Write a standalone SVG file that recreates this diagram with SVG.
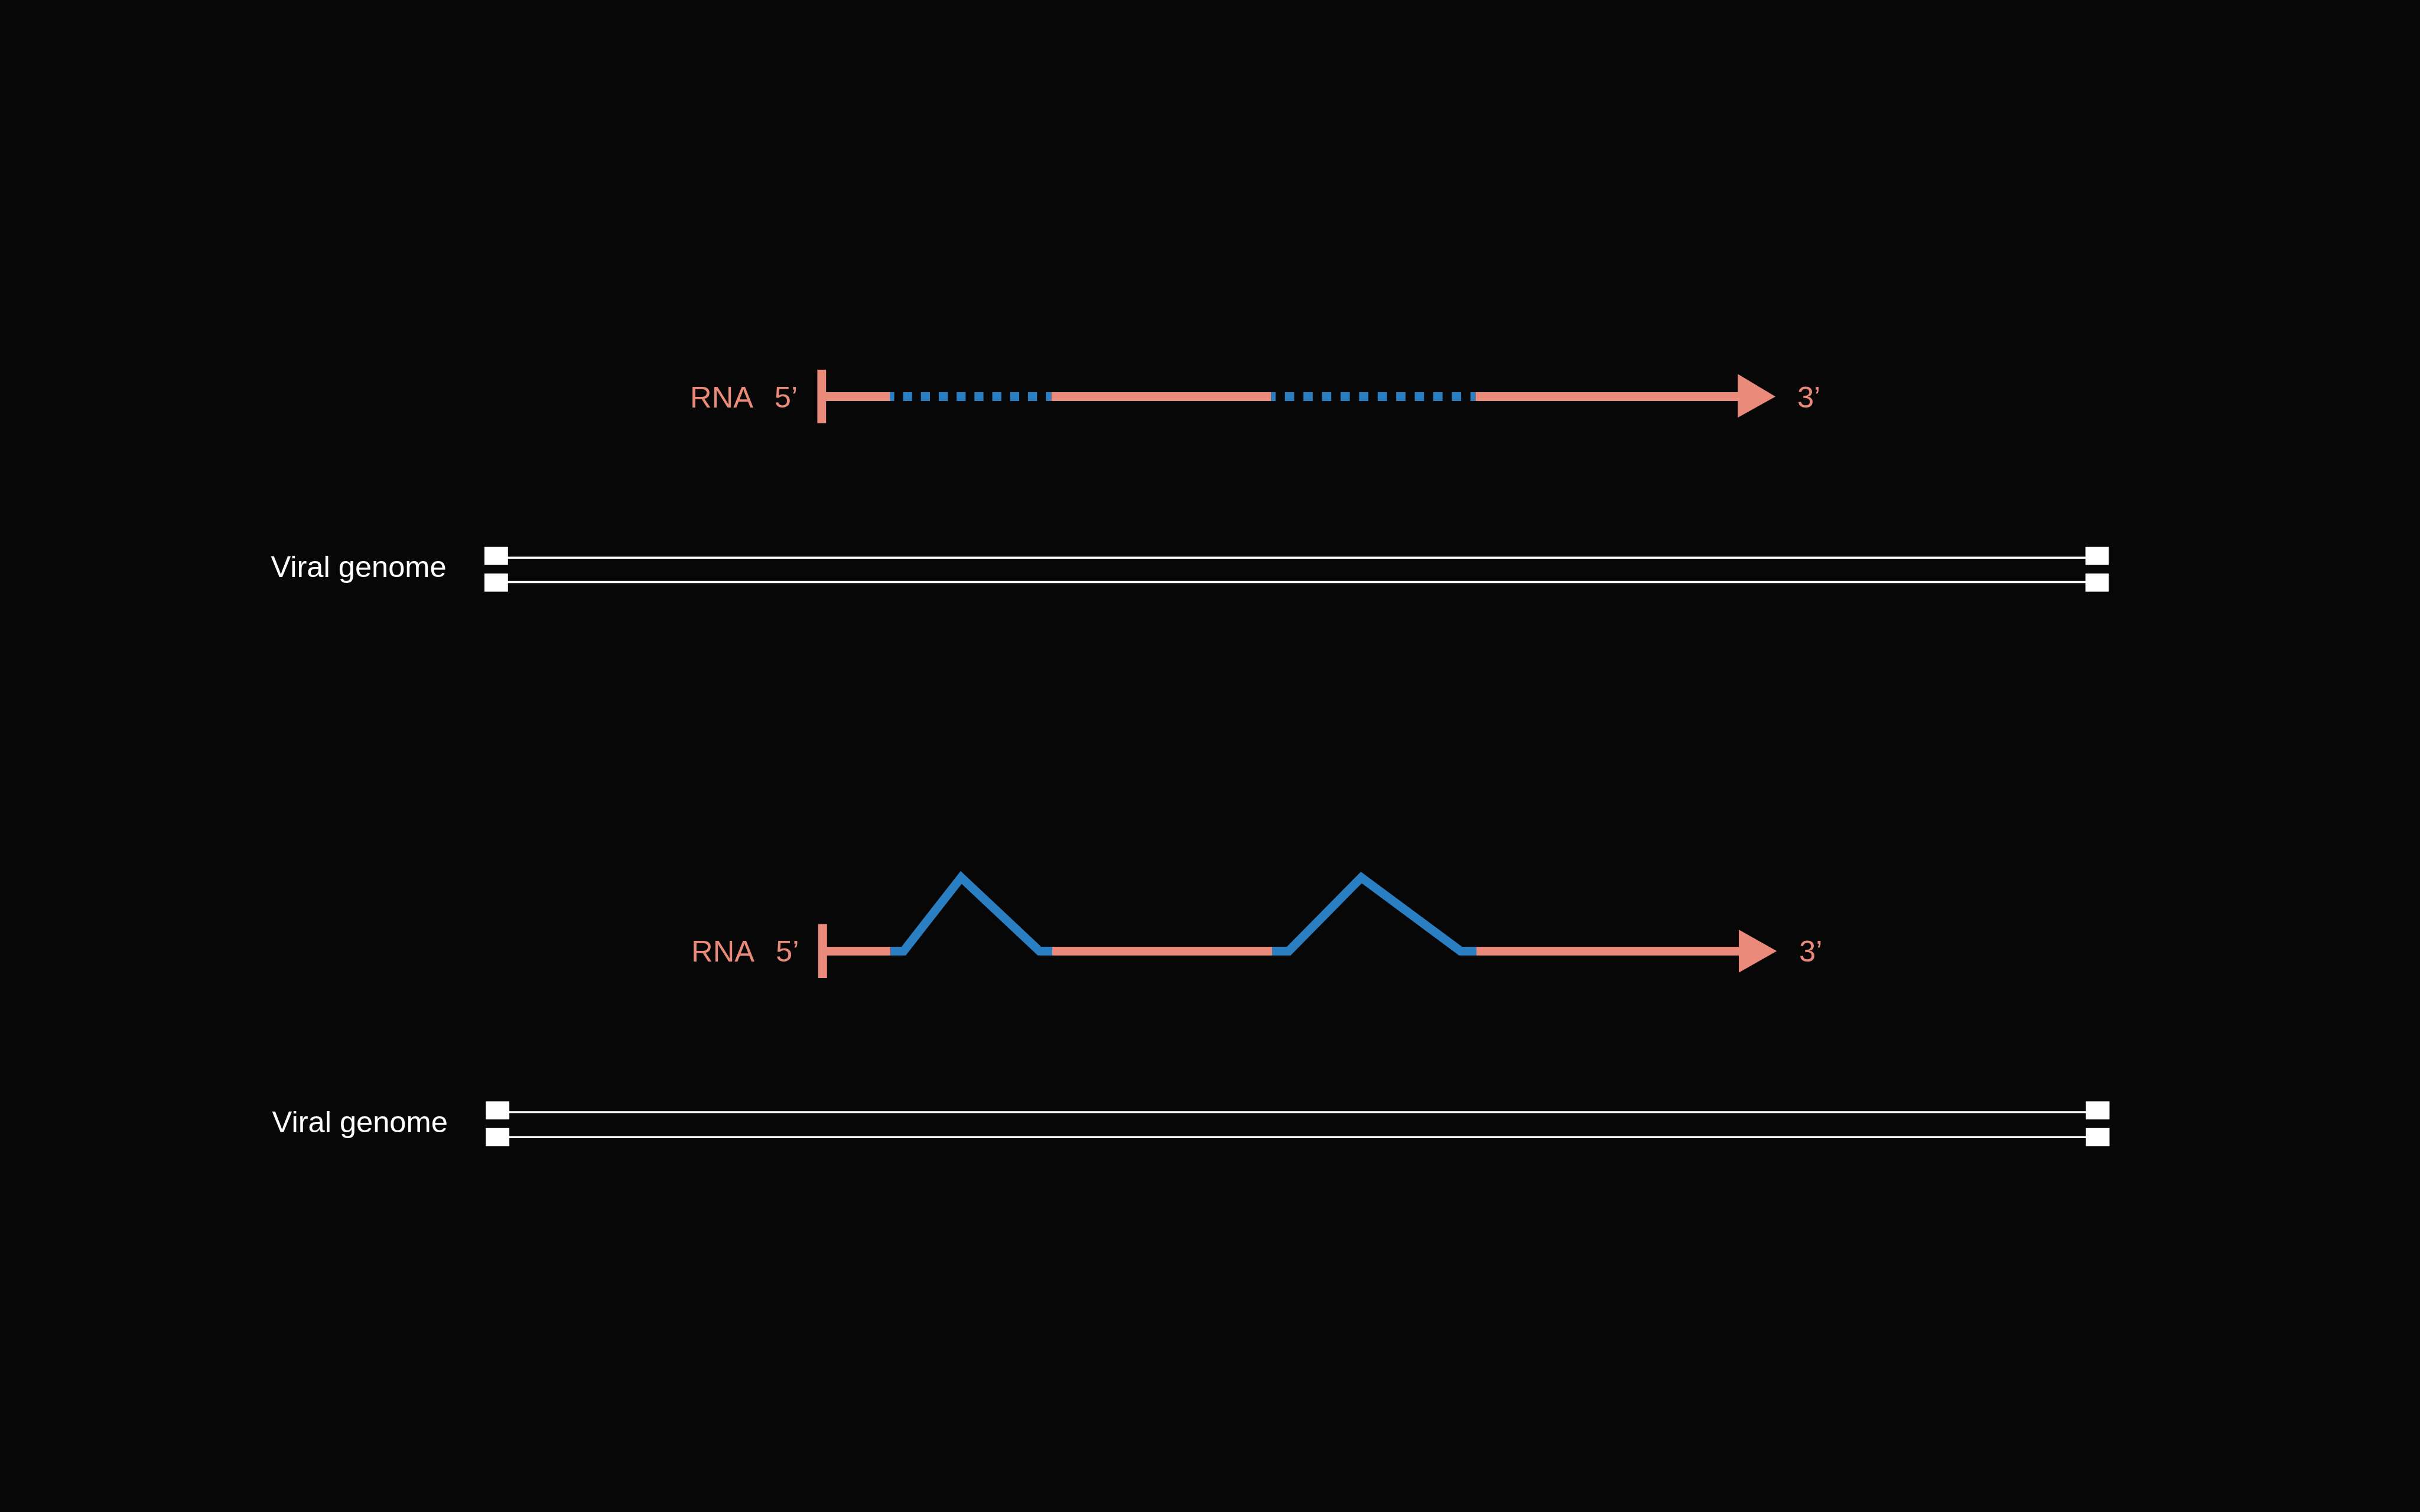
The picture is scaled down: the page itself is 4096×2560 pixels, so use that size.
<svg xmlns="http://www.w3.org/2000/svg" width="4096" height="2560" viewBox="0 0 4096 2560">
<style>
.salmon{stroke:#EA8A7B;stroke-width:14.8;fill:none;stroke-linecap:butt}
.blue{stroke:#2A7EC2;stroke-width:14.8;fill:none;stroke-linecap:butt;stroke-linejoin:miter}
.bar{fill:#EA8A7B}
.head{fill:#EA8A7B}
.lbl{font-family:"Liberation Sans",Arial,Helvetica,sans-serif;font-size:50.6px;fill:#EA8A7B}
.glbl{font-family:"Liberation Sans",Arial,Helvetica,sans-serif;font-size:50.6px;fill:#FFFFFF}
.strand{stroke:#FFFFFF;stroke-width:3.5;fill:none}
.box{fill:#FFFFFF}
</style>
<rect x="0" y="0" width="4096" height="2560" fill="#070707"/>

<g id="rna-top">
  <rect class="bar" x="1383.4" y="625.9" width="14.8" height="90.5"/>
  <line class="salmon" x1="1390" y1="671.5" x2="1506.0" y2="671.5"/>
  <line class="blue" x1="1506.0" y1="671.5" x2="1779.4" y2="671.5" stroke-dasharray="15.3 14.9" stroke-dashoffset="7.7"/>
  <line class="salmon" x1="1779.4" y1="671.5" x2="2151.4" y2="671.5"/>
  <line class="blue" x1="2151.4" y1="671.5" x2="2497.4" y2="671.5" stroke-dasharray="15.7 15.7" stroke-dashoffset="8.05"/>
  <line class="salmon" x1="2497.4" y1="671.5" x2="2942" y2="671.5"/>
  <polygon class="head" points="2941.4,633.3 2941.4,706.9 3005.1,671.5"/>
  <text class="lbl" x="1168.1" y="689.5">RNA</text>
  <text class="lbl" x="1310.8" y="689.5">5’</text>
  <text class="lbl" x="3041.9" y="689.5">3’</text>
</g>

<g id="genome-top">
  <line class="strand" x1="855" y1="944.2" x2="3532" y2="944.2"/>
  <line class="strand" x1="855" y1="985.6" x2="3532" y2="985.6"/>
  <rect class="box" x="819.9" y="925.8" width="39.9" height="30.7"/>
  <rect class="box" x="819.9" y="971.0" width="39.9" height="30.7"/>
  <rect class="box" x="3529.7" y="925.8" width="39.5" height="30.7"/>
  <rect class="box" x="3529.7" y="971.0" width="39.5" height="30.7"/>
  <text class="glbl" x="458.4" y="977.2">Viral genome</text>
</g>

<g id="rna-bottom">
  <rect class="bar" x="1384.8" y="1564.7" width="15" height="91.3"/>
  <line class="salmon" x1="1392" y1="1610.3" x2="1507.2" y2="1610.3"/>
  <polyline class="blue" points="1507.2,1610.3 1529.4,1610.3 1626.8,1485.7 1759.5,1610.3 1781.0,1610.3"/>
  <line class="salmon" x1="1781.0" y1="1610.3" x2="2153.0" y2="1610.3"/>
  <polyline class="blue" points="2153.0,1610.3 2181.3,1610.3 2304.1,1485.7 2472.0,1610.3 2498.9,1610.3"/>
  <line class="salmon" x1="2498.9" y1="1610.3" x2="2944" y2="1610.3"/>
  <polygon class="head" points="2943.0,1573.9 2943.0,1646.7 3007.4,1610.3"/>
  <text class="lbl" x="1170.1" y="1628.1">RNA</text>
  <text class="lbl" x="1313.1" y="1628.1">5’</text>
  <text class="lbl" x="3045.0" y="1627.6">3’</text>
</g>

<g id="genome-bottom">
  <line class="strand" x1="858" y1="1883.0" x2="3533" y2="1883.0"/>
  <line class="strand" x1="858" y1="1925.2" x2="3533" y2="1925.2"/>
  <rect class="box" x="822.2" y="1864.6" width="39.9" height="30.7"/>
  <rect class="box" x="822.2" y="1909.8" width="39.9" height="30.7"/>
  <rect class="box" x="3530.5" y="1864.6" width="40" height="30.7"/>
  <rect class="box" x="3530.5" y="1909.8" width="40" height="30.7"/>
  <text class="glbl" x="460.6" y="1916.7">Viral genome</text>
</g>

<g id="connectors"></g>
</svg>
